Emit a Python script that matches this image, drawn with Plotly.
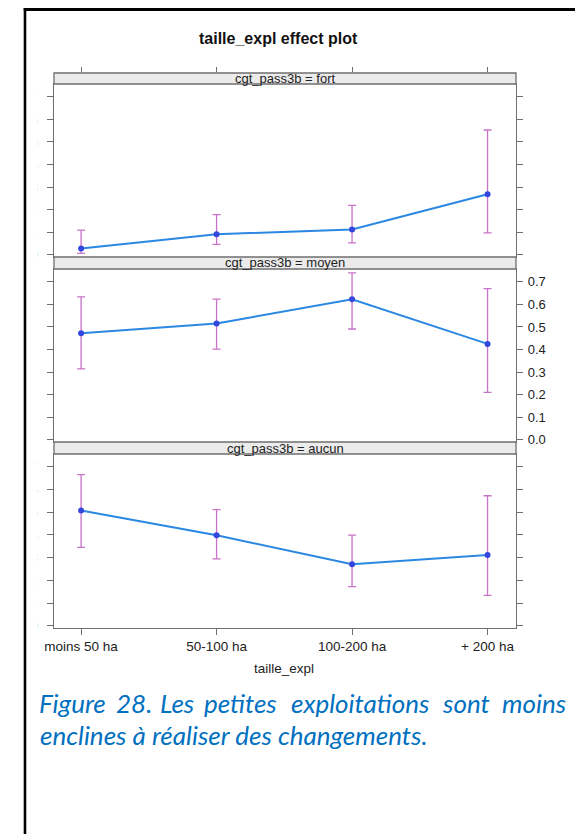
import plotly.graph_objects as go

# ---------------- data ----------------
categories = ["moins 50 ha", "50-100 ha", "100-200 ha", "+ 200 ha"]
panel_levels = ["fort", "moyen", "aucun"]

fort_fit = [0.028, 0.091, 0.112, 0.268]
fort_lower = [0.006, 0.046, 0.053, 0.097]
fort_upper = [0.109, 0.178, 0.219, 0.553]

moyen_fit = [0.472, 0.515, 0.623, 0.425]
moyen_lower = [0.314, 0.402, 0.491, 0.210]
moyen_upper = [0.633, 0.623, 0.740, 0.670]

aucun_fit = [0.508, 0.399, 0.271, 0.312]
aucun_lower = [0.345, 0.295, 0.172, 0.134]
aucun_upper = [0.666, 0.512, 0.399, 0.573]

y_tick_values = [0.0, 0.1, 0.2, 0.3, 0.4, 0.5, 0.6, 0.7]

title_text = "taille_expl effect plot"
x_label = "taille_expl"
strip_var = "cgt_pass3b"
caption_line1 = ["Figure", "28.", "Les", "petites", "exploitations", "sont", "moins"]
caption_line2 = "enclines à réaliser des changements."

# ---------------- layout geometry (page pixel coordinates) ----------------
OFF = 8                      # default body margin of the html page
W, H = 583 - OFF, 834 - OFF  # figure size so that it fits the window
PL, PR, PT, PB = 43, 516, 73, 628   # plot area edges on the page
L, T = PL - OFF, PT - OFF
R = (OFF + W) - PR
B = (OFF + H) - PB
PW = PR - PL
PH = PB - PT


def px_x(px):
    return (px - PL) / PW


def px_y(py):
    return (PB - py) / PH


FONT = "Liberation Sans, Arial, sans-serif"
BOX = "#6f6f6f"
LINE_COL = "#2a88e2"
PT_COL = "#3447dc"
CI_COL = "#c873c8"
YR = [-0.01, 0.757]
XR = [-0.2, 3.21]
x_pos = list(range(len(categories)))

# (level, fit, lower, upper, strip_top_px, data_top_px, data_bottom_px, axis suffix, label side)
panels = [
    ("fort", fort_fit, fort_lower, fort_upper, 73, 84, 257, "3", "left"),
    ("moyen", moyen_fit, moyen_lower, moyen_upper, 257, 269, 442, "2", "right"),
    ("aucun", aucun_fit, aucun_lower, aucun_upper, 442, 454, 628, "", "left"),
]

fig = go.Figure()
shapes = []
annotations = []
layout_axes = {}

for level, fit, lo, up, s_top, d_top, d_bot, sfx, side in panels:
    xa = "x" + sfx
    ya = "y" + sfx
    fig.add_trace(go.Scatter(
        x=x_pos, y=fit, mode="markers", xaxis=xa, yaxis=ya,
        marker=dict(size=1, color="rgba(0,0,0,0)"),
        error_y=dict(type="data", symmetric=False,
                     array=[u - f for u, f in zip(up, fit)],
                     arrayminus=[f - l for f, l in zip(fit, lo)],
                     color=CI_COL, thickness=1.3, width=4),
        showlegend=False, hoverinfo="skip"))
    fig.add_trace(go.Scatter(
        x=x_pos, y=fit, mode="lines+markers", xaxis=xa, yaxis=ya,
        line=dict(color=LINE_COL, width=2),
        marker=dict(color=PT_COL, size=6),
        showlegend=False))

    bottom_panel = (sfx == "")
    layout_axes["xaxis" + sfx] = dict(
        domain=[0, 1], anchor=ya, range=XR, showgrid=False, zeroline=False,
        showline=True, mirror=True, linecolor=BOX, linewidth=1.3,
        tickvals=x_pos, ticktext=categories,
        ticks="outside" if bottom_panel else "", ticklen=6, tickcolor=BOX,
        showticklabels=bottom_panel,
        tickfont=dict(family=FONT, size=13.5, color="#222"),
    )
    layout_axes["yaxis" + sfx] = dict(
        domain=[px_y(d_bot), px_y(d_top)], anchor=xa, range=YR,
        tickvals=y_tick_values, tickformat=".1f",
        showgrid=False, zeroline=False, showline=True, mirror="ticks",
        linecolor=BOX, linewidth=1.3, ticks="outside", ticklen=6,
        tickcolor=BOX, side=side, showticklabels=True,
        ticklabelstandoff=(2 if side == "right" else 6),
        tickfont=dict(family=FONT, size=13, color="#222"),
    )
    # strip
    shapes.append(dict(type="rect", xref="paper", yref="paper",
                       x0=0, x1=1, y0=px_y(d_top), y1=px_y(s_top),
                       fillcolor="#ebebeb", line=dict(color=BOX, width=1.3),
                       layer="above"))
    annotations.append(dict(text=f"{strip_var} = {level}", xref="paper", yref="paper",
                            x=0.5, y=px_y((s_top + d_top) / 2), showarrow=False,
                            xanchor="center", yanchor="middle",
                            font=dict(family=FONT, size=13, color="#222")))

# top tick marks above the first strip
fig.add_trace(go.Scatter(x=[], y=[], xaxis="x4", yaxis="y4", showlegend=False))
layout_axes["xaxis4"] = dict(domain=[0, 1], anchor="y4", side="top", range=XR,
                             tickvals=x_pos, showticklabels=False, ticks="outside",
                             ticklen=5, tickcolor=BOX, showline=False,
                             showgrid=False, zeroline=False)
layout_axes["yaxis4"] = dict(domain=[px_y(84), px_y(73)], anchor="x4", range=[0, 1],
                             visible=False)

# white area left of the cropped tick labels + black frame
shapes.append(dict(type="rect", xref="paper", yref="paper",
                   x0=px_x(0), x1=px_x(26.5), y0=px_y(840), y1=px_y(0),
                   fillcolor="white", line=dict(width=0), layer="above"))
shapes.append(dict(type="line", xref="paper", yref="paper",
                   x0=px_x(12), x1=px_x(590), y0=px_y(9.6), y1=px_y(9.6),
                   line=dict(color="black", width=3), layer="above"))
shapes.append(dict(type="line", xref="paper", yref="paper",
                   x0=px_x(13.3), x1=px_x(13.3), y0=px_y(8), y1=px_y(840),
                   line=dict(color="black", width=2.6), layer="above"))

# title and x label
annotations.append(dict(text=f"<b>{title_text}</b>", xref="paper", yref="paper",
                        x=px_x(273), y=px_y(39), showarrow=False,
                        xanchor="center", yanchor="middle",
                        font=dict(family=FONT, size=16, color="#111")))
annotations.append(dict(text=x_label, xref="paper", yref="paper",
                        x=px_x(278), y=px_y(668), showarrow=False,
                        xanchor="center", yanchor="middle",
                        font=dict(family=FONT, size=13.5, color="#222")))

# caption: justified first line (words placed at their centres), second line left
CAP_SIZE = 26
CAP_FONT = dict(family="Lato", size=CAP_SIZE, color="#0070C0", style="italic")
BASE1, BASE2 = 713.5, 745
MID_SHIFT = 0.387 * CAP_SIZE
word_center_px = [61.7, 125, 169, 234, 356.5, 465, 534.2]
for word, cx in zip(caption_line1, word_center_px):
    annotations.append(dict(text=word, xref="paper", yref="paper",
                            x=px_x(cx), y=px_y(BASE1 - MID_SHIFT), showarrow=False,
                            xanchor="center", yanchor="middle",
                            borderpad=0, font=CAP_FONT))
annotations.append(dict(text=caption_line2, xref="paper", yref="paper",
                        x=px_x(28.0), y=px_y(BASE2 - MID_SHIFT), showarrow=False,
                        xanchor="left", yanchor="middle",
                        borderpad=0, font=CAP_FONT))

fig.update_layout(
    width=W, height=H,
    margin=dict(l=L, r=R, t=T, b=B),
    paper_bgcolor="white", plot_bgcolor="white",
    shapes=shapes, annotations=annotations,
    showlegend=False,
    **layout_axes,
)

fig.write_html("out.html")
